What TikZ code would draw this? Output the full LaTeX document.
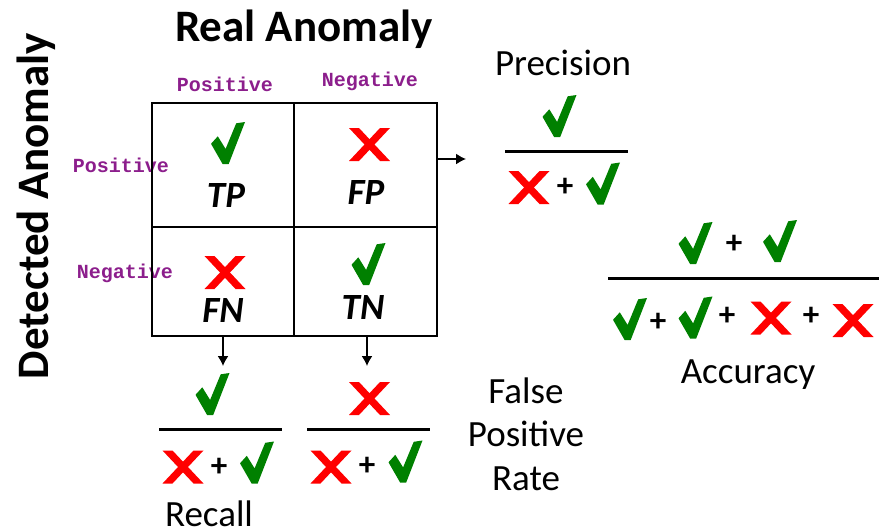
\documentclass[tikz,border=0pt]{standalone}
\usepackage{fontspec}
\setmainfont{Carlito}
\newfontfamily\monofam{Liberation Mono}
\usetikzlibrary{arrows.meta}
\definecolor{chkgreen}{RGB}{0,128,0}
\definecolor{crsred}{RGB}{255,0,0}
\definecolor{lblpurple}{RGB}{140,30,140}
\begin{document}
\begin{tikzpicture}[x=1pt,y=-1pt,
  title/.style={font=\bfseries\fontsize{45}{45}\selectfont, inner sep=0, anchor=base},
  lbl/.style={font=\monofam\bfseries\fontsize{20}{20}\selectfont, text=lblpurple, inner sep=0, anchor=base},
  cellname/.style={font=\bfseries\itshape\fontsize{37}{37}\selectfont, inner sep=0, anchor=base},
  measure/.style={font=\fontsize{37}{37}\selectfont, inner sep=0, anchor=base},
  plus/.style={font=\bfseries\fontsize{33}{33}\selectfont, inner sep=0},
  cell/.style={draw, line width=2pt, inner sep=0},
  arr/.style={line width=1.5pt, -{Latex[length=10pt,width=11pt]}},
  fracline/.style={line width=3pt},
  chk/.pic={\fill[chkgreen] (-17,0.8) -- (-10.2,-6.7) -- (-2.4,5.9) -- (8.2,-19.7) -- (17,-21) -- (0.7,21) -- (-5.4,21) -- cycle;},
  crs/.pic={\fill[crsred] (-20.5,-16.5) -- (-10.5,-16.5) -- (20.5,16.5) -- (10.5,16.5) -- cycle;
            \fill[crsred] (10.5,-16.5) -- (20.5,-16.5) -- (-10.5,16.5) -- (-20.5,16.5) -- cycle;}
]
\useasboundingbox (0,0) rectangle (879,531);

% titles
\node[title] (real) at (304,41) {Real Anomaly};
\node[title, rotate=90] (det) at (48,206) {Detected Anomaly};

% axis labels
\node[lbl] (colpos) at (225,91) {Positive};
\node[lbl] (colneg) at (370,86) {Negative};
\node[lbl] (rowpos) at (121,172) {Positive};
\node[lbl] (rowneg) at (125,278) {Negative};

% matrix cells
\node[cell, minimum width=142pt, minimum height=124pt] (cTP) at (223,165) {};
\node[cell, minimum width=143pt, minimum height=124pt] (cFP) at (365.5,165) {};
\node[cell, minimum width=142pt, minimum height=109pt] (cFN) at (223,281.5) {};
\node[cell, minimum width=143pt, minimum height=109pt] (cTN) at (365.5,281.5) {};

\pic at (228,143) {chk};
\pic at (369.5,144.5) {crs};
\pic at (225,272.5) {crs};
\pic at (368.5,264) {chk};

\node[cellname] (tp) at (226,207) {TP};
\node[cellname] (fp) at (366,204) {FP};
\node[cellname] (fn) at (223,322) {FN};
\node[cellname] (tn) at (363,319) {TN};

% arrows
\coordinate (rarr) at (466,159);
\coordinate (darr1) at (223,366);
\coordinate (darr2) at (367,366);
\draw[arr] (cFP.east |- rarr) -- (rarr);
\draw[arr] (cFN.south) -- (darr1);
\draw[arr] (cTN.south -| darr2) -- (darr2);

% precision
\node[measure] (prec) at (563,75) {Precision};
\pic at (559.5,116) {chk};
\draw[fracline] (505,151) -- (628,151);
\pic at (529,187.5) {crs};
\node[plus] (p1) at (565,187) {+};
\pic at (603,183.5) {chk};

% accuracy
\pic at (695.5,243) {chk};
\node[plus] (p2) at (734,244) {+};
\pic at (780,241) {chk};
\draw[fracline] (608,278) -- (879,278);
\pic at (630,319) {chk};
\node[plus] (p3) at (658,322) {+};
\pic at (695.5,317.5) {chk};
\node[plus] (p4) at (727,316) {+};
\pic at (771,318) {crs};
\node[plus] (p5) at (811,316) {+};
\pic at (853,320.5) {crs};
\node[measure] (acc) at (748,383) {Accuracy};

% recall
\pic at (212.5,394) {chk};
\draw[fracline] (159,429) -- (282,429);
\pic at (183,467) {crs};
\node[plus] (p6) at (219,467) {+};
\pic at (257,462.5) {chk};
\node[measure] (rec) at (209,526) {Recall};

% false positive rate
\pic at (369.5,398.5) {crs};
\draw[fracline] (307,429) -- (430,429);
\pic at (331,467) {crs};
\node[plus] (p7) at (367,466) {+};
\pic at (405.5,461.5) {chk};
\node[measure] (fpr1) at (526,403) {False};
\node[measure] (fpr2) at (526,446) {Positive};
\node[measure] (fpr3) at (526,490) {Rate};
\end{tikzpicture}
\end{document}
